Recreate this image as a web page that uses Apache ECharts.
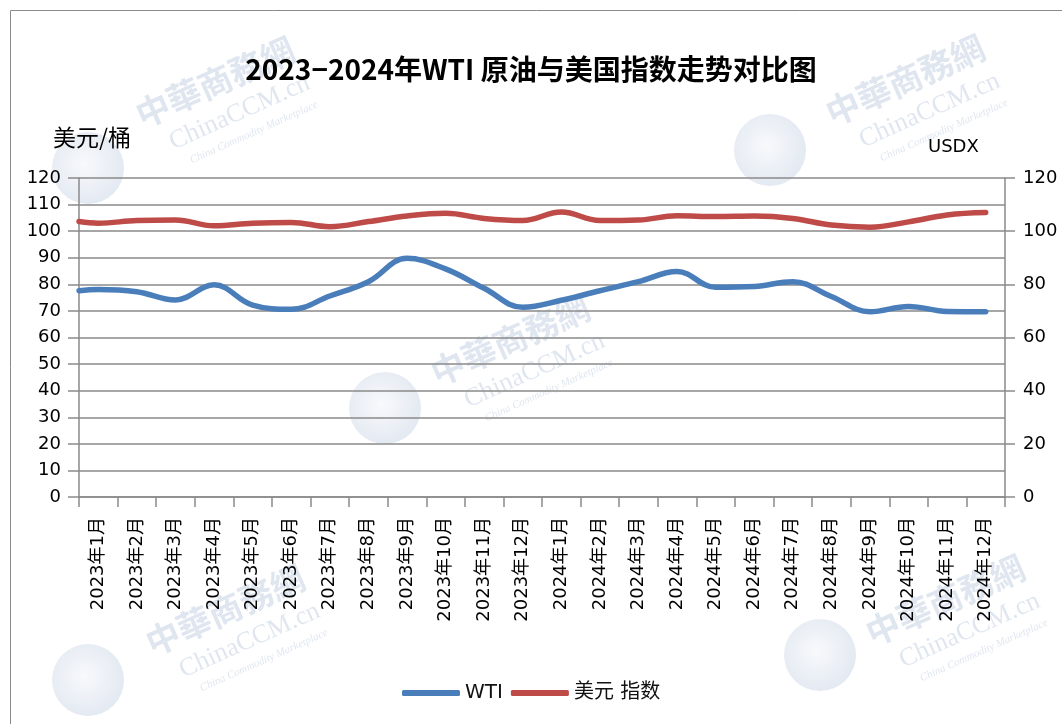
<!DOCTYPE html>
<html>
<head>
<meta charset="utf-8">
<script src="https://cdn.jsdelivr.net/npm/echarts@6/dist/echarts.min.js"></script>
<style>
html,body{margin:0;padding:0;background:#fff;}
#chart{width:1062px;height:724px;}
</style>
</head>
<body>
<div id="chart"></div>
<script>
const categories = ['2023年1月','2023年2月','2023年3月','2023年4月','2023年5月','2023年6月','2023年7月','2023年8月','2023年9月','2023年10月','2023年11月','2023年12月',
  '2024年1月','2024年2月','2024年3月','2024年4月','2024年5月','2024年6月','2024年7月','2024年8月','2024年9月','2024年10月','2024年11月','2024年12月'];
const wti = [78.1, 77.2, 74.1, 79.8, 72.2, 70.6, 75.6, 81.0, 89.8, 85.8, 78.5, 71.4, 74.0, 77.6, 81.0, 84.8, 78.9, 79.2, 81.0, 75.4, 69.7, 71.7, 69.8, 69.7];
const usdx = [103.0, 104.0, 104.2, 102.0, 103.0, 103.3, 101.7, 103.6, 105.7, 106.7, 104.8, 104.0, 107.2, 104.0, 104.2, 105.8, 105.5, 105.7, 104.8, 102.3, 101.5, 103.5, 106.1, 107.0];
// values where the lines meet the left axis (the lines start at the plot edge)
const wtiEdge = 77.6;
const usdxEdge = 103.6;
const leftTicks = {min: 0, max: 120, interval: 10};
const rightTicks = {min: 0, max: 120, interval: 20};

const titleText = '2023−2024年WTI 原油与美国指数走势对比图';
const leftUnit = '美元/桶';
const rightUnit = 'USDX';
const seriesNames = ['WTI', '美元 指数'];

function withEdge(edge, arr) {
  const out = [[-0.5, edge]];
  arr.forEach((v, i) => out.push([i, v]));
  return out;
}

const chart = echarts.init(document.getElementById('chart'), null, {renderer: 'canvas'});
const axisGray = '#8a8a8a';
const labelFont = "'DejaVu Sans', 'Noto Sans CJK SC', sans-serif";
const wmColor = 'rgba(110,140,185,0.22)';

function watermark(cx, cy) {
  return {
    type: 'group', x: cx, y: cy, rotation: 0.42, silent: true, z: 0,
    children: [
      {type: 'text', x: 0, y: 0, style: {text: '中華商務網', font: "bold 34px 'Noto Sans CJK TC', serif", fill: wmColor, textAlign: 'center', textVerticalAlign: 'middle'}},
      {type: 'text', x: 10, y: 38, style: {text: 'ChinaCCM.cn', font: "26px 'Liberation Serif', serif", fill: wmColor, textAlign: 'center', textVerticalAlign: 'middle'}},
      {type: 'text', x: 15, y: 62, style: {text: 'China Commodity Marketplace', font: "italic 11px 'Liberation Serif', serif", fill: wmColor, textAlign: 'center', textVerticalAlign: 'middle'}}
    ]
  };
}
function globe(cx, cy) {
  return {type: 'circle', silent: true, z: 0, shape: {cx: cx, cy: cy, r: 36},
    style: {fill: {type: 'radial', x: 0.45, y: 0.45, r: 0.6, colorStops: [{offset: 0, color: 'rgba(225,232,242,0.25)'}, {offset: 1, color: 'rgba(140,165,200,0.25)'}]}}};
}

const option = {
  backgroundColor: '#fff',
  animation: false,
  title: {
    text: titleText,
    left: 'center',
    top: 50,
    textStyle: {fontSize: 28, fontWeight: 'bold', color: '#000', fontFamily: "'Noto Sans CJK SC', sans-serif"}
  },
  graphic: [
    {type: 'rect', shape: {x: 10.5, y: 10.5, width: 1100, height: 800}, style: {fill: 'none', stroke: '#8a8a8a', lineWidth: 1}, silent: true, z: 0},
    globe(88, 168), globe(770, 150), globe(385, 408), globe(88, 680), globe(820, 655),
    watermark(215, 82), watermark(905, 80), watermark(510, 340), watermark(225, 610), watermark(945, 600),
    {type: 'text', left: 53, top: 126, style: {text: leftUnit, font: "23px 'Noto Sans CJK SC', sans-serif", fill: '#000'}, z: 10},
    {type: 'text', left: 928, top: 138, style: {text: rightUnit, font: "18px 'DejaVu Sans', sans-serif", fill: '#000'}, z: 10}
  ],
  legend: {
    left: 397,
    top: 678,
    data: seriesNames,
    icon: 'roundRect',
    itemWidth: 58,
    itemHeight: 6,
    itemGap: 8,
    textStyle: {fontSize: 20, color: '#111', fontFamily: labelFont}
  },
  grid: {left: 79, right: 57, top: 178, bottom: 227, containLabel: false},
  xAxis: [
    {
      type: 'category',
      data: categories,
      boundaryGap: true,
      axisLine: {show: true, onZero: false, lineStyle: {color: axisGray, width: 1.5}},
      axisTick: {show: true, inside: false, length: 10, lineStyle: {color: axisGray, width: 1.5}},
      axisLabel: {rotate: 90, margin: 20, fontSize: 18, color: '#000', fontFamily: labelFont, interval: 0},
      splitLine: {show: false}
    },
    {
      type: 'value',
      min: -0.5,
      max: 23.5,
      show: false
    }
  ],
  yAxis: [
    {
      type: 'value',
      position: 'left',
      min: leftTicks.min, max: leftTicks.max, interval: leftTicks.interval,
      axisLine: {show: true, onZero: false, lineStyle: {color: axisGray, width: 1.5}},
      axisTick: {show: true, inside: false, length: 11, lineStyle: {color: axisGray, width: 1.5}},
      axisLabel: {margin: 18, fontSize: 18, color: '#000', fontFamily: labelFont},
      splitLine: {show: true, lineStyle: {color: axisGray, width: 1.5}}
    },
    {
      type: 'value',
      position: 'right',
      min: rightTicks.min, max: rightTicks.max, interval: rightTicks.interval,
      axisLine: {show: true, onZero: false, lineStyle: {color: axisGray, width: 1.5}},
      axisTick: {show: true, inside: false, length: 10, lineStyle: {color: axisGray, width: 1.5}},
      axisLabel: {margin: 18, fontSize: 18, color: '#000', fontFamily: labelFont},
      splitLine: {show: false}
    }
  ],
  series: [
    {
      name: seriesNames[0],
      type: 'line',
      xAxisIndex: 1,
      yAxisIndex: 0,
      data: withEdge(wtiEdge, wti),
      smooth: 0.4,
      showSymbol: false,
      clip: true,
      lineStyle: {color: '#4A7EBB', width: 5.5, cap: 'round'},
      itemStyle: {color: '#4A7EBB'},
      z: 5
    },
    {
      name: seriesNames[1],
      type: 'line',
      xAxisIndex: 1,
      yAxisIndex: 1,
      data: withEdge(usdxEdge, usdx),
      smooth: 0.4,
      showSymbol: false,
      clip: true,
      lineStyle: {color: '#BE4B48', width: 5.5, cap: 'round'},
      itemStyle: {color: '#BE4B48'},
      z: 5
    }
  ]
};
chart.setOption(option);
</script>
</body>
</html>
